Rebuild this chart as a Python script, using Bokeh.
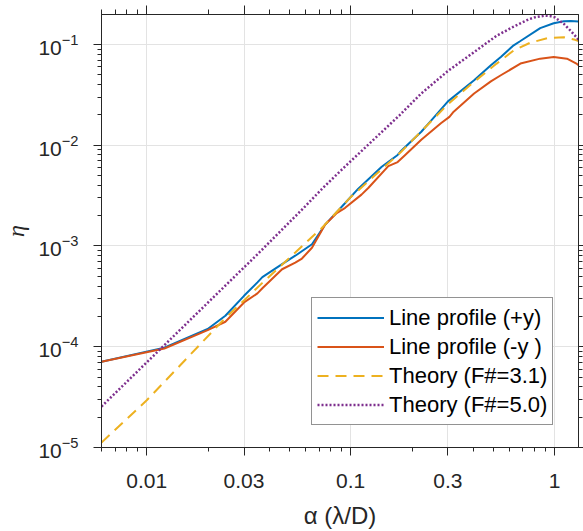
from bokeh.plotting import figure
from bokeh.models import (FixedTicker, CustomJSTickFormatter, LogAxis, Legend,
                          LegendItem, Range1d, LogTickFormatter)
from bokeh.embed import file_html
from bokeh.resources import INLINE

# ---- data ----
alpha_plus = [0.006, 0.0122, 0.0199, 0.0243, 0.030, 0.0349, 0.0369, 0.0461, 0.0535,
              0.0646, 0.075, 0.094, 0.109, 0.142, 0.170, 0.177, 0.222, 0.248, 0.30,
              0.403, 0.487, 0.545, 0.63, 0.68, 0.85, 0.99, 1.11, 1.2, 1.31]
eta_plus = [7.1e-5, 9.8e-5, 1.5e-4, 2.03e-4, 3.2e-4, 4.35e-4, 4.9e-4, 6.6e-4, 8.0e-4,
            1.04e-3, 1.63e-3, 2.67e-3, 3.7e-3, 6.1e-3, 8.0e-3, 8.8e-3, 0.0136, 0.0175, 0.0272,
            0.0441, 0.062, 0.075, 0.098, 0.108, 0.145, 0.162, 0.170, 0.171, 0.169]

alpha_minus = [0.006, 0.0122, 0.0199, 0.0243, 0.030, 0.0349, 0.0369, 0.0461, 0.0535,
               0.0577, 0.0646, 0.075, 0.085, 0.094, 0.113, 0.122, 0.153, 0.170, 0.184,
               0.222, 0.277, 0.305, 0.32, 0.403, 0.487, 0.545, 0.68, 0.85, 0.99, 1.15,
               1.28, 1.31]
eta_minus = [7.1e-5, 9.6e-5, 1.46e-4, 1.77e-4, 2.75e-4, 3.38e-4, 3.8e-4, 5.87e-4, 6.84e-4,
             7.5e-4, 9.6e-4, 1.63e-3, 2.1e-3, 2.39e-3, 3.23e-3, 3.76e-3, 6.2e-3, 6.8e-3, 7.9e-3,
             0.0113, 0.0165, 0.0191, 0.0215, 0.0326, 0.043, 0.0494, 0.0645, 0.0722, 0.075, 0.0722,
             0.0645, 0.062]

alpha_f31 = [0.006, 0.01, 0.0235, 0.0369, 0.0535, 0.072, 0.1, 0.177, 0.3, 0.4, 0.52,
             0.63, 0.76, 0.92, 1.11, 1.26, 1.31]
eta_f31 = [1.12e-5, 2.94e-5, 1.8e-4, 4.3e-4, 8.6e-4, 1.5e-3, 3.05e-3, 8.6e-3, 0.0255, 0.042,
           0.0645, 0.087, 0.104, 0.115, 0.118, 0.111, 0.108]

alpha_f50 = [0.006, 0.0349, 0.0589, 0.0725, 0.0903, 0.174, 0.222, 0.30, 0.403, 0.52,
             0.63, 0.68, 0.75, 0.81, 0.9, 0.95, 1.0, 1.11, 1.2, 1.28, 1.31]
eta_f50 = [2.55e-5, 8.26e-4, 2.39e-3, 3.7e-3, 5.7e-3, 0.0199, 0.0326, 0.0545, 0.0839, 0.122,
           0.150, 0.162, 0.178, 0.187, 0.193, 0.191, 0.186, 0.16, 0.136, 0.118, 0.111]

series_labels = ["Line profile (+y)", "Line profile (-y )",
                 "Theory (F#=3.1)", "Theory (F#=5.0)"]

x_major = [0.01, 0.03, 0.1, 0.3, 1]
x_tick_labels = ["0.01", "0.03", "0.1", "0.3", "1"]
x_minor = [0.006, 0.007, 0.008, 0.009, 0.02, 0.04, 0.05, 0.06, 0.07, 0.08, 0.09,
           0.2, 0.4, 0.5, 0.6, 0.7, 0.8, 0.9]
y_major = [1e-5, 1e-4, 1e-3, 1e-2, 1e-1]
y_minor = [k * 10.0 ** e for e in range(-5, -1) for k in range(2, 10)]

# ---- styling ----
AX = "#262626"
FONT = "Liberation Sans"
colors = ["#0072BD", "#D95319", "#EDB120", "#7E2F8E"]

p = figure(width=583, height=531, x_axis_type="log", y_axis_type="log",
           x_range=Range1d(0.006, 1.31), y_range=Range1d(1e-5, 0.198),
           output_backend="svg", toolbar_location=None,
           min_border_left=98, min_border_right=5, min_border_top=14, min_border_bottom=82)
p.background_fill_color = "white"
p.border_fill_color = "white"
p.outline_line_color = AX
p.outline_line_width = 1

xt = FixedTicker(ticks=x_major, minor_ticks=x_minor)
yt = FixedTicker(ticks=y_major, minor_ticks=y_minor)

xfmt = CustomJSTickFormatter(args=dict(tvals=x_major, tlabels=x_tick_labels),
                             code="const i = tvals.indexOf(tick); return i >= 0 ? tlabels[i] : String(tick);")

for ax in p.xaxis:
    ax.ticker = xt
    ax.formatter = xfmt
for ax in p.yaxis:
    ax.ticker = yt
    ax.formatter = LogTickFormatter()

for ax in list(p.xaxis) + list(p.yaxis):
    ax.axis_line_color = AX
    ax.major_tick_line_color = AX
    ax.minor_tick_line_color = AX
    ax.major_tick_in = 0
    ax.minor_tick_in = 0
    ax.major_tick_out = 8
    ax.minor_tick_out = 4
    ax.major_label_text_font = FONT
    ax.major_label_text_font_size = "21px"
    ax.major_label_text_color = AX
    ax.axis_label_text_color = AX

p.xaxis.major_label_standoff = 18
p.yaxis.major_label_standoff = 15
p.xaxis.axis_label = "α (λ/D)"
p.xaxis.axis_label_text_font = FONT
p.xaxis.axis_label_text_font_style = "normal"
p.xaxis.axis_label_text_font_size = "24px"
p.xaxis.axis_label_standoff = 11
p.yaxis.axis_label = "η"
p.yaxis.axis_label_text_font = "Liberation Serif"
p.yaxis.axis_label_text_font_style = "italic"
p.yaxis.axis_label_text_font_size = "24px"
p.yaxis.axis_label_standoff = 6

# box axes (top / right) with outward ticks, labels not drawn
box_kw = dict(major_label_text_font_size="1px", major_label_text_color=None,
              major_label_standoff=0, axis_line_color=AX, major_tick_line_color=AX,
              minor_tick_line_color=AX, major_tick_in=0, minor_tick_in=0)
top = LogAxis(ticker=xt, major_tick_out=9, minor_tick_out=5, **box_kw)
right = LogAxis(ticker=yt, major_tick_out=5, minor_tick_out=4, **box_kw)
p.add_layout(top, "above")
p.add_layout(right, "right")

p.xgrid.ticker = xt
p.ygrid.ticker = yt
for g in (p.xgrid, p.ygrid):
    g.grid_line_color = "#e3e3e3"
    g.grid_line_width = 1
    g.minor_grid_line_color = None

r1 = p.line(alpha_plus, eta_plus, line_color=colors[0], line_width=2)
r2 = p.line(alpha_minus, eta_minus, line_color=colors[1], line_width=2)
r3 = p.line(alpha_f31, eta_f31, line_color=colors[2], line_width=2, line_dash="11 7")
r4 = p.line(alpha_f50, eta_f50, line_color=colors[3], line_width=2.5, line_dash="2 2")

legend = Legend(items=[LegendItem(label=series_labels[i], renderers=[r])
                       for i, r in enumerate([r1, r2, r3, r4])],
                location=(210, 22), orientation="vertical",
                label_text_font=FONT, label_text_font_size="22px", label_text_color="black",
                glyph_width=67, glyph_height=29, label_height=29, label_standoff=5,
                spacing=0, padding=5, margin=0,
                border_line_color=AX, border_line_width=1,
                background_fill_color="white", background_fill_alpha=1)
p.add_layout(legend, "center")

open("out.html", "w").write(file_html(p, INLINE))
